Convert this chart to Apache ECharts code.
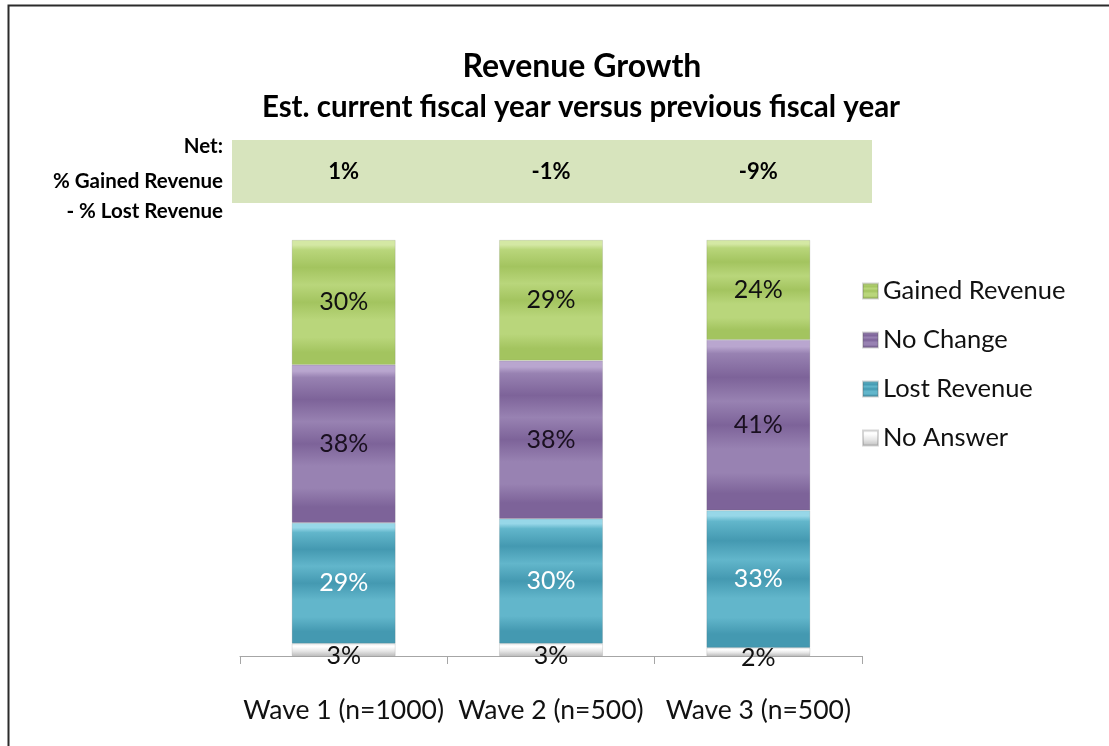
<!DOCTYPE html>
<html>
<head>
<meta charset="utf-8">
<title>Revenue Growth</title>
<script src="https://cdn.jsdelivr.net/npm/echarts@6/dist/echarts.min.js"></script>
<style>
  html, body { margin: 0; padding: 0; background: #ffffff; }
  #chart { width: 1109px; height: 746px; }
</style>
</head>
<body>
<div id="chart"></div>
<script>
// Survey waves shown on the x axis
const categories = ['Wave 1 (n=1000)', 'Wave 2 (n=500)', 'Wave 3 (n=500)'];

// Share of respondents (%) per answer, one value per wave
const gainedRevenue = [30, 29, 24];
const noChange      = [38, 38, 41];
const lostRevenue   = [29, 30, 33];
const noAnswer      = [3, 3, 2];

// Net = % gained minus % lost, shown in the band above the bars
const netValues = gainedRevenue.map((g, i) => g - lostRevenue[i]);

const FONT = 'Lato, "Liberation Sans", sans-serif';

// Glossy banded fill in the style of an office chart bevel
function glossy(hi, mid, dark) {
  return new echarts.graphic.LinearGradient(0, 0, 0, 1, [
    { offset: 0.00, color: hi },
    { offset: 0.04, color: hi },
    { offset: 0.08, color: mid },
    { offset: 0.22, color: dark },
    { offset: 0.36, color: mid },
    { offset: 0.50, color: dark },
    { offset: 0.64, color: mid },
    { offset: 0.78, color: mid },
    { offset: 0.90, color: dark },
    { offset: 1.00, color: dark }
  ]);
}

const palette = {
  gained:   glossy('#d4e8a4', '#b9d67b', '#a3c45f'),
  change:   glossy('#b9a6cf', '#9882b2', '#7d6399'),
  lost:     glossy('#97d7e8', '#62b6cb', '#4499b1'),
  noAnswer: new echarts.graphic.LinearGradient(0, 0, 0, 1, [
    { offset: 0, color: '#f2f2f2' },
    { offset: 0.25, color: '#ffffff' },
    { offset: 0.6, color: '#e6e6e6' },
    { offset: 1, color: '#bdbdbd' }
  ])
};

function labelStyle(color, extra) {
  return Object.assign({
    show: true,
    position: 'inside',
    formatter: '{c}%',
    fontFamily: FONT,
    fontSize: 25,
    color: color
  }, extra || {});
}

function barSeries(name, data, fill, labelColor, extraLabel) {
  return {
    name: name,
    type: 'bar',
    stack: 'total',
    barWidth: '50%',
    data: data,
    itemStyle: { color: fill, borderColor: 'rgba(90,90,90,0.25)', borderWidth: 0.6 },
    label: labelStyle(labelColor, extraLabel),
    emphasis: { disabled: true }
  };
}

const chart = echarts.init(document.getElementById('chart'), null, { renderer: 'canvas' });

chart.setOption({
  animation: false,
  backgroundColor: '#ffffff',
  title: [
    {
      text: 'Revenue Growth',
      left: 577, top: 46, textAlign: 'center',
      textStyle: { fontFamily: FONT, fontWeight: 'bold', fontSize: 32, color: '#000' }
    },
    {
      text: 'Est. current fiscal year versus previous fiscal year',
      left: 576, top: 87, textAlign: 'center',
      textStyle: { fontFamily: FONT, fontWeight: 'bold', fontSize: 29.5, color: '#000' }
    }
  ],
  legend: {
    orient: 'vertical',
    left: 862,
    top: 278,
    padding: 0,
    itemWidth: 15,
    itemHeight: 15,
    itemGap: 23,
    icon: 'rect',
    data: ['Gained Revenue', 'No Change', 'Lost Revenue', 'No Answer'],
    textStyle: { fontFamily: FONT, fontSize: 25.5, color: '#111', padding: [0, 0, 0, 0] }
  },
  graphic: [
    {
      type: 'rect',
      left: 6, top: 3,
      shape: { width: 1120, height: 760 },
      style: { fill: 'none', stroke: '#2b2b2b', lineWidth: 2 },
      silent: true
    },
    {
      type: 'rect',
      left: 232, top: 140,
      shape: { width: 640, height: 63 },
      style: { fill: '#d7e4bd' },
      z: -1,
      silent: true
    },
    {
      type: 'text', right: 1109 - 223, top: 136,
      style: { text: 'Net:', fontFamily: FONT, fontWeight: 'bold', fontSize: 20.5, fill: '#000', textAlign: 'right' }
    },
    {
      type: 'text', right: 1109 - 223, top: 171,
      style: { text: '% Gained Revenue', fontFamily: FONT, fontWeight: 'bold', fontSize: 20.5, fill: '#000', textAlign: 'right' }
    },
    {
      type: 'text', right: 1109 - 223, top: 201,
      style: { text: '- % Lost Revenue', fontFamily: FONT, fontWeight: 'bold', fontSize: 20.5, fill: '#000', textAlign: 'right' }
    }
  ],
  grid: { left: 240, right: 247, top: 240, bottom: 90, containLabel: false },
  xAxis: [
    {
      type: 'category',
      data: categories,
      axisLine: { lineStyle: { color: '#a6a6a6', width: 1 } },
      axisTick: { show: true, length: 8, alignWithLabel: false, lineStyle: { color: '#a6a6a6' } },
      axisLabel: { margin: 41, fontFamily: FONT, fontSize: 26.5, color: '#111', interval: 0 }
    },
    {
      // Net values printed above each bar inside the shaded band
      type: 'category',
      position: 'top',
      data: categories,
      axisLine: { show: false },
      axisTick: { show: false },
      axisLabel: {
        interval: 0,
        margin: 68,
        verticalAlign: 'middle',
        fontFamily: FONT, fontWeight: 'bold', fontSize: 22, color: '#000',
        formatter: (v, i) => netValues[i] + '%'
      }
    }
  ],
  yAxis: { type: 'value', min: 0, max: 100, show: false, splitLine: { show: false } },
  series: [
    barSeries('No Answer', noAnswer, palette.noAnswer, '#111', { offset: [0, 6] }),
    barSeries('Lost Revenue', lostRevenue, palette.lost, '#ffffff'),
    barSeries('No Change', noChange, palette.change, '#1a1020'),
    barSeries('Gained Revenue', gainedRevenue, palette.gained, '#111')
  ]
});
</script>
</body>
</html>
